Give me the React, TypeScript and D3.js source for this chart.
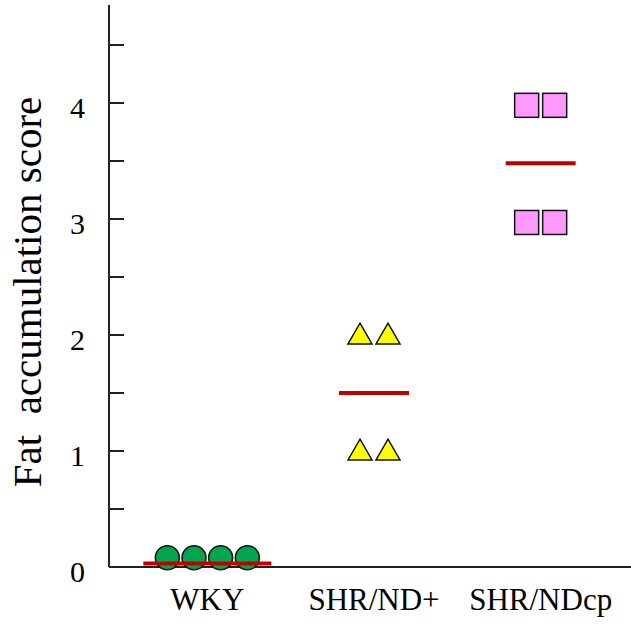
import React from "react";
import * as d3 from "d3";

const categories = ["WKY", "SHR/ND+", "SHR/NDcp"];
const wkyValues = [0.08, 0.08, 0.08, 0.08];
const shrNdPlusValues = [2, 2, 1, 1];
const shrNdcpValues = [3.98, 3.98, 2.97, 2.97];
const meanValues = [0.03, 1.5, 3.48];
const majorTicks = [0, 1, 2, 3, 4];
const minorTicks = [0.5, 1.5, 2.5, 3.5, 4.5];

const W = 631;
const H = 625;
const left = 109;
const bottom = 567;

export default function App() {
  const y = d3.scaleLinear().domain([0, 4]).range([bottom, 103]);
  const x = d3.scaleBand().domain(categories).range([124, 624]).padding(0);
  const cx = (c: string) => (x(c) as number) + x.bandwidth() / 2;

  const offsets4 = [-40, -13.3, 13.3, 40];
  const offsets2 = [-14, 14];

  const tri = d3.symbol().type(d3.symbolTriangle).size(250);

  return (
    <svg width={W} height={H} style={{ position: "absolute", left: 0, top: 0 }}
      fontFamily="'Liberation Serif', 'Times New Roman', serif">
      <line x1={left} x2={left} y1={5} y2={bottom} stroke="#222" strokeWidth={2} />
      <line x1={left} x2={W} y1={bottom} y2={bottom} stroke="#222" strokeWidth={2} />
      {majorTicks.concat(minorTicks).map((t) => (
        <line key={"t" + t} x1={left} x2={124} y1={y(t)} y2={y(t)} stroke="#222" strokeWidth={2} />
      ))}
      {majorTicks.map((t) => (
        <text key={"l" + t} x={85} y={y(t)} dy="0.5em" textAnchor="end" fontSize={30}>{t}</text>
      ))}
      <text
        transform={`translate(41,${292}) rotate(-90)`}
        textAnchor="middle"
        fontSize={41}
        style={{ whiteSpace: "pre" }}
      >{"Fat  accumulation score"}</text>
      {categories.map((c) => (
        <text key={c} x={cx(c)} y={610} textAnchor="middle" fontSize={31}>{c}</text>
      ))}

      {wkyValues.map((v, i) => (
        <circle key={"c" + i} cx={cx(categories[0]) + offsets4[i]} cy={y(v)} r={12}
          fill="#00a64f" stroke="#111" strokeWidth={1.5} />
      ))}
      {shrNdPlusValues.map((v, i) => (
        <path key={"tr" + i} d={tri() as string}
          transform={`translate(${cx(categories[1]) + offsets2[i % 2]},${y(v) + 2})`}
          fill="#ffff00" stroke="#111" strokeWidth={1.5} />
      ))}
      {shrNdcpValues.map((v, i) => (
        <rect key={"s" + i} x={cx(categories[2]) + offsets2[i % 2] - 12} y={y(v) - 12}
          width={24} height={24} fill="#ff99ff" stroke="#111" strokeWidth={1.5} />
      ))}
      {meanValues.map((m, i) => {
        const c = cx(categories[i]);
        const half = i === 0 ? 64 : 35;
        return (
          <line key={"m" + i} x1={c - half} x2={c + half} y1={y(m)} y2={y(m)}
            stroke="#c00000" strokeWidth={4} />
        );
      })}
    </svg>
  );
}
